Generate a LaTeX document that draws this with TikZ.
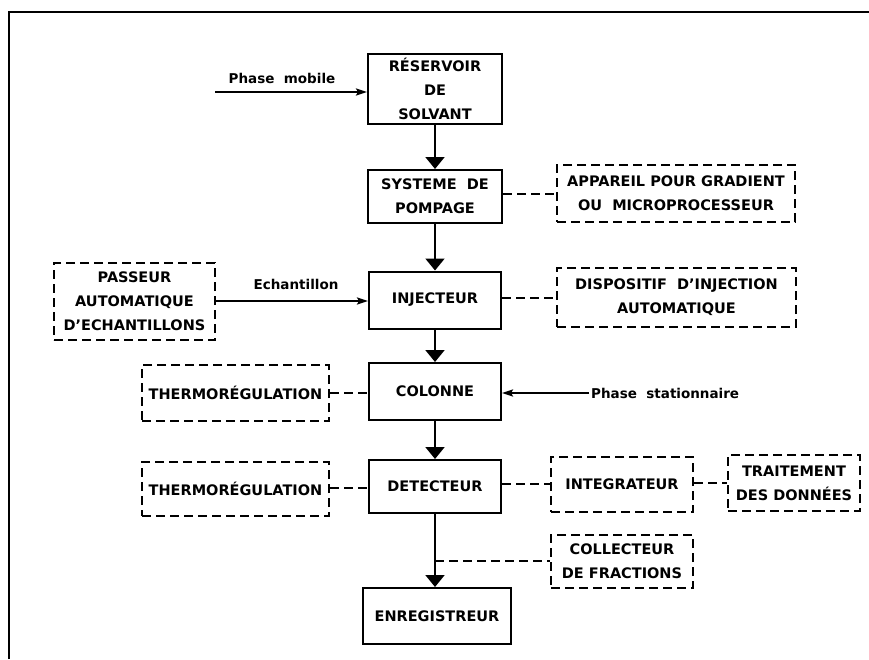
\documentclass[tikz,border=0pt]{standalone}
\usepackage{fontspec}
\setmainfont{DejaVu Sans}
\usetikzlibrary{arrows.meta}
\begin{document}
\begin{tikzpicture}[x=1pt,y=-1pt,
  box/.style={draw, line width=2pt, align=center, inner sep=2pt,
    font=\bfseries\fontsize{14.5}{24}\selectfont},
  dbox/.style={box, dash pattern=on 9pt off 5pt},
  lab/.style={font=\bfseries\fontsize{13.5}{16}\selectfont, inner sep=2pt},
  con/.style={line width=2pt},
  dcon/.style={line width=2pt, dash pattern=on 9pt off 5pt},
  flow/.style={con, -{Triangle[width=19pt,length=12pt]}},
  feed/.style={con, -{Stealth[width=7pt,length=11pt,inset=2pt]}},
  frame/.style={line width=2pt}
]
\useasboundingbox (0,0) rectangle (869,659);
\draw[frame] (9,659) -- (9,12) -- (869,12);

% main column
\node[box, minimum width=134pt, minimum height=70pt] (res) at (435,89) {RÉSERVOIR\\DE\\SOLVANT};
\node[box, minimum width=134pt, minimum height=53pt] (pomp) at (435,196.5) {SYSTEME\ \ DE\\POMPAGE};
\node[box, minimum width=132pt, minimum height=57pt] (inj) at (435,300) {INJECTEUR};
\node[box, minimum width=132pt, minimum height=57pt] (col) at (435,391.5) {COLONNE};
\node[box, minimum width=132pt, minimum height=53pt] (det) at (435,486.5) {DETECTEUR};
\node[box, minimum width=148pt, minimum height=56pt] (enr) at (437,616) {ENREGISTREUR};

% dashed boxes
\node[dbox, minimum width=161pt, minimum height=77pt] (pass) at (134.5,301.5) {PASSEUR\\AUTOMATIQUE\\D'ECHANTILLONS};
\node[dbox, minimum width=238pt, minimum height=57pt] (app) at (676,193.5) {APPAREIL POUR GRADIENT\\OU\ \ MICROPROCESSEUR};
\node[dbox, minimum width=239pt, minimum height=59pt] (disp) at (676.5,297.5) {DISPOSITIF\ \ D'INJECTION\\AUTOMATIQUE};
\node[dbox, minimum width=187pt, minimum height=56pt] (th1) at (235.5,393) {THERMORÉGULATION};
\node[dbox, minimum width=187pt, minimum height=54pt] (th2) at (235.5,489) {THERMORÉGULATION};
\node[dbox, minimum width=142pt, minimum height=55pt] (integ) at (622,484.5) {INTEGRATEUR};
\node[dbox, minimum width=132pt, minimum height=56pt] (trait) at (794,483) {TRAITEMENT\\DES DONNÉES};
\node[dbox, minimum width=142pt, minimum height=53pt] (coll) at (622,561.5) {COLLECTEUR\\DE FRACTIONS};

% labels
\node[lab] (pm) at (282,78) {Phase\ \ mobile};
\node[lab] (ech) at (296,284) {Echantillon};
\node[lab, anchor=west] (pst) at (589,393) {Phase\ \ stationnaire};
\coordinate (pms) at (215,92);
\coordinate (cj) at (435,561);

% flow arrows
\draw[flow] (res) -- (pomp);
\draw[flow] (pomp) -- (inj);
\draw[flow] (inj) -- (col);
\draw[flow] (col) -- (det);
\draw[flow] (det.south) -- (enr.north -| det.south);

% feeds
\draw[feed] (pms) -- (pms -| res.west);
\draw[feed] (pass.east |- 0,301) -- (inj.west |- 0,301);
\draw[feed] (pst.west) -- (pst.west -| col.east);

% dashed connections
\draw[dcon] (pomp.east |- app.west) -- (app.west);
\draw[dcon] (inj.east |- disp.west) -- (disp.west);
\draw[dcon] (th1.east) -- (th1.east -| col.west);
\draw[dcon] (th2.east |- 0,488) -- (det.west |- 0,488);
\draw[dcon] (det.east |- 0,484) -- (integ.west |- 0,484);
\draw[dcon] (integ.east |- 0,483) -- (trait.west);
\draw[dcon] (cj) -- (cj -| coll.west);
\end{tikzpicture}
\end{document}
